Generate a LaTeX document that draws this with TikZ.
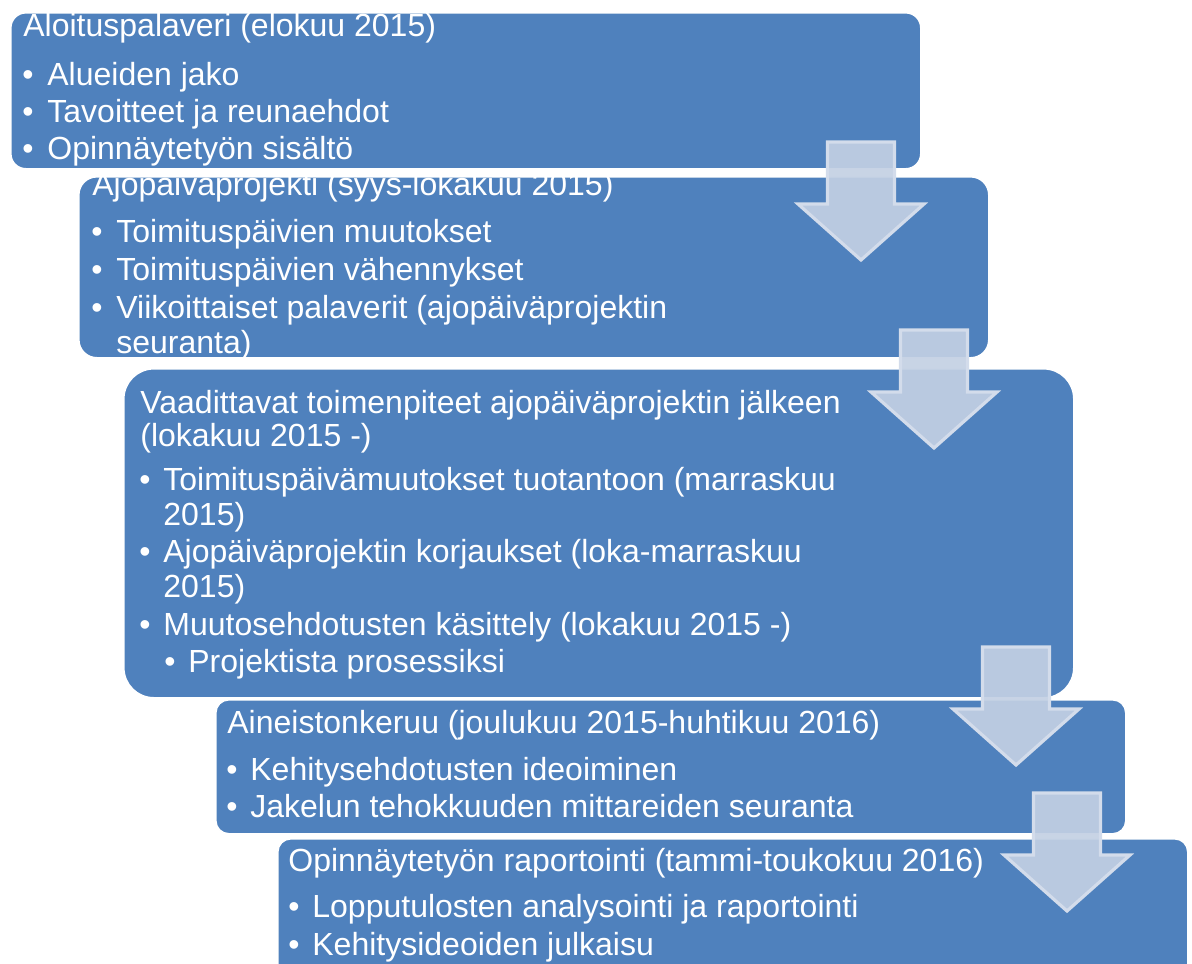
\documentclass[tikz,border=0pt]{standalone}
\usepackage{fontspec}
\setmainfont{Liberation Sans}
\definecolor{vaiheblue}{RGB}{79,129,189}
\definecolor{nuolifill}{RGB}{195,208,227}
\definecolor{nuoliedge}{RGB}{211,220,235}

\begin{document}
\begin{tikzpicture}[x=0.5pt,y=-0.5pt,
  vaihe/.style={draw=white,line width=0.8pt,fill=vaiheblue,anchor=north west,inner sep=0pt,minimum width=455pt},
  teksti/.style={text=white,anchor=base west,inner sep=0pt,font=\fontsize{16}{19}\selectfont},
  nuoli/.style={fill=nuolifill,draw=nuoliedge,line width=1.6pt,fill opacity=0.92}]
\path[use as bounding box] (0,0) rectangle (1192,963);
\clip (0,0) rectangle (1192,963);
\node[vaihe,rounded corners=7.5pt,minimum height=78pt] (aloitus) at (10,12) {};
\node[vaihe,rounded corners=9pt,minimum height=90.5pt] (ajopaiva) at (78,176) {};
\node[vaihe,rounded corners=15pt,minimum height=164.5pt,minimum width=475pt] (toimet) at (123,368) {};
\node[vaihe,rounded corners=6.5pt,minimum height=67pt] (aineisto) at (215,699) {};
\node[vaihe,rounded corners=6.5pt,minimum height=70pt] (raportti) at (277,838) {};
\foreach \x/\y [count=\i] in {22/85,22/122,22/159,91/242,91/280,91/318,139/490,139/562,139/635,164/672,226/780,226/817,288/917,288/955}
  \node[teksti] (piste\i) at (\x,\y) {•};
\foreach \x/\y/\rivi [count=\i] in {
  23/37/{Aloituspalaveri (elokuu 2015)},
  47/85/{Alueiden jako},
  47/122/{Tavoitteet ja reunaehdot},
  47/159/{Opinnäytetyön sisältö},
  92/195/{Ajopäiväprojekti (syys-lokakuu 2015)},
  116/242/{Toimituspäivien muutokset},
  116/280/{Toimituspäivien vähennykset},
  116/318/{Viikoittaiset palaverit (ajopäiväprojektin},
  116/353/{seuranta)},
  140/413/{Vaadittavat toimenpiteet ajopäiväprojektin jälkeen},
  140/446/{(lokakuu 2015 -)},
  163/490/{Toimituspäivämuutokset tuotantoon (marraskuu},
  163/525/{2015)},
  163/562/{Ajopäiväprojektin korjaukset (loka-marraskuu},
  163/597/{2015)},
  163/635/{Muutosehdotusten käsittely (lokakuu 2015 -)},
  188/672/{Projektista prosessiksi},
  227/733/{Aineistonkeruu (joulukuu 2015-huhtikuu 2016)},
  250/780/{Kehitysehdotusten ideoiminen},
  250/817/{Jakelun tehokkuuden mittareiden seuranta},
  288/871/{Opinnäytetyön raportointi (tammi-toukokuu 2016)},
  312/917/{Lopputulosten analysointi ja raportointi},
  312/955/{Kehitysideoiden julkaisu}}
  \node[teksti] (rivi\i) at (\x,\y) {\rivi};
\foreach \ax/\ay in {861/142,934/330,1016/647,1067/793}
  \draw[nuoli] (\ax-33.5,\ay) -- ++(67,0) -- ++(0,62) -- ++(29.5,0) -- (\ax,\ay+118)
    -- (\ax-63,\ay+62) -- ++(29.5,0) -- cycle;
\end{tikzpicture}
\end{document}
